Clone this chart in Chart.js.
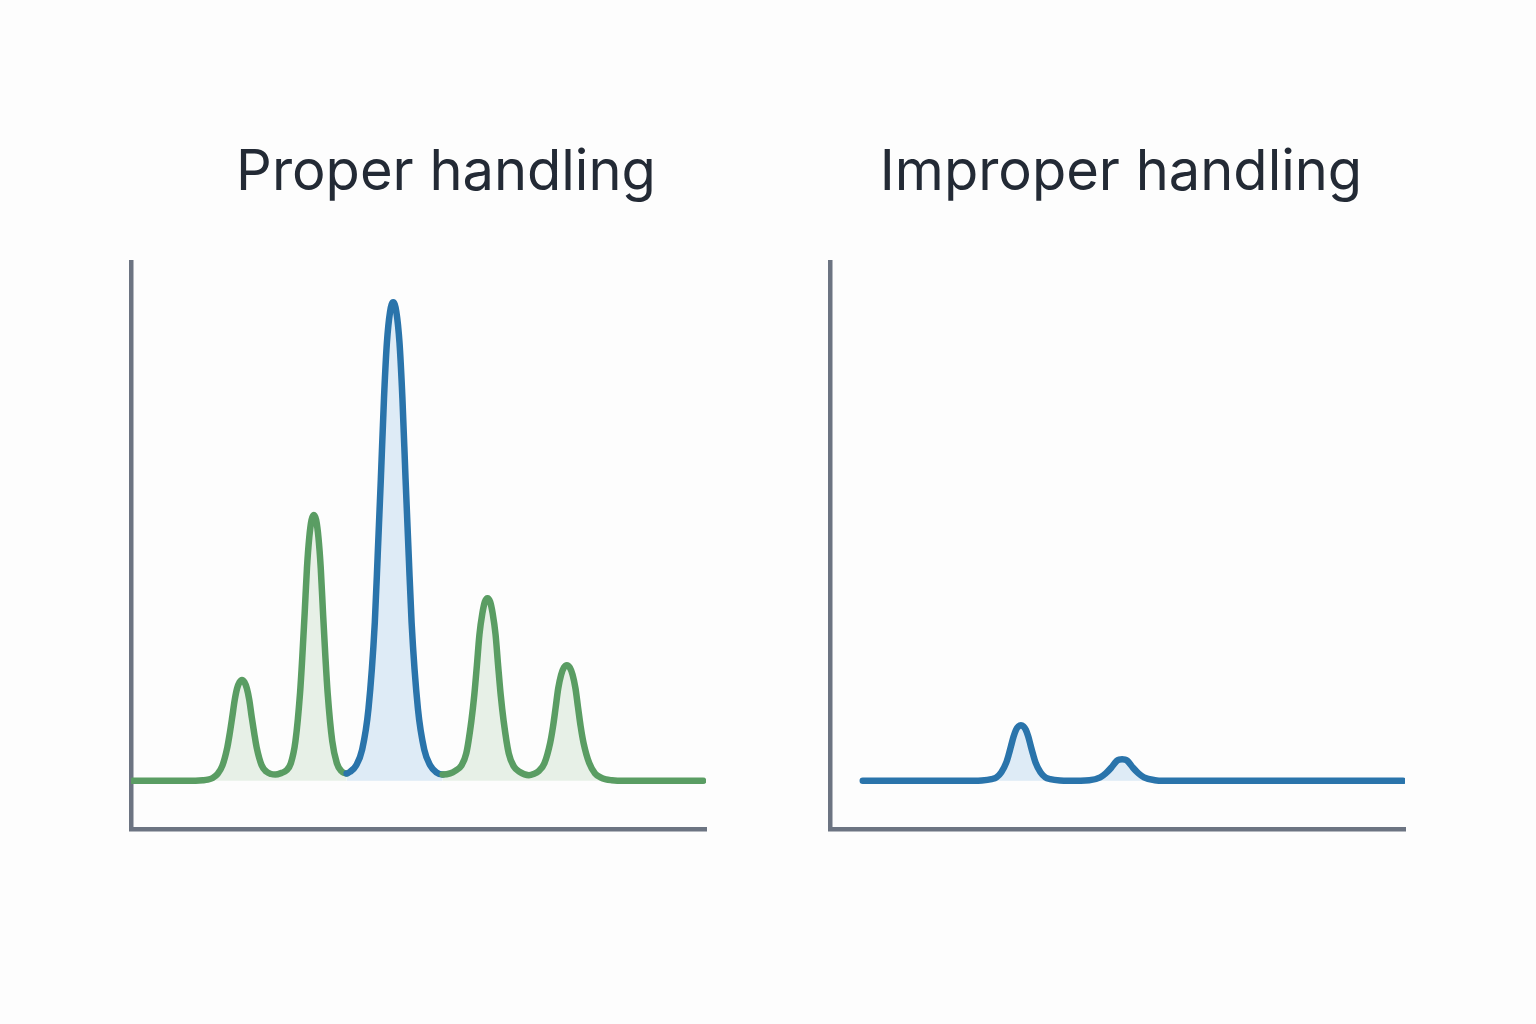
<!DOCTYPE html>
<html>
<head>
<meta charset="utf-8">
<script src="https://cdn.jsdelivr.net/npm/chart.js@4.4.1/dist/chart.umd.min.js"></script>
<style>
  html, body { margin: 0; padding: 0; background: #fdfdfd; }
  body { width: 1536px; height: 1024px; position: relative; overflow: hidden; }
  .title {
    position: absolute; width: 700px; text-align: center;
    font-family: Inter, Roboto, sans-serif; font-weight: 400;
    font-size: 56px; line-height: 70px; color: #232a35;
  }
  .panel { position: absolute; top: 242px; width: 615px; height: 607px; }
</style>
</head>
<body>
<div class="title" style="left:96px; top:135px;">Proper handling</div>
<div class="title" style="left:771px; top:135px;">Improper handling</div>
<div class="panel" style="left:111px;"><canvas id="proper"></canvas></div>
<div class="panel" style="left:810px;"><canvas id="improper"></canvas></div>
<script>
// ── chromatogram traces (x: % of run time, y: % of detector scale) ──
const baseline = 8.5;

const properX = [0.3, 10, 12.5, 13.35, 14.2, 15.05, 15.9, 16.75, 17.18, 17.6,
  18.03, 18.45, 18.88, 19.3, 19.73, 20.15, 20.58, 21.0, 21.43, 21.85,
  22.7, 23.55, 24.35, 25.1, 26.2, 27.0, 27.8, 28.6, 29.4, 29.8,
  30.2, 30.6, 31.0, 31.4, 31.8, 32.2, 32.6, 33.0, 33.4, 33.8,
  34.2, 35.0, 35.8, 36.6, 37.5, 38.1, 39.15, 40.2, 41.3, 42.4,
  42.9, 43.45, 44.0, 44.5, 45.05, 45.6, 46.15, 46.7, 47.2, 47.75,
  48.3, 48.8, 49.9, 51.0, 52.05, 53.1, 54.2, 55.5, 56.45, 57.4,
  58.3, 59.2, 59.7, 60.15, 60.6, 61.1, 61.55, 62.0, 62.45, 62.9,
  63.4, 63.85, 64.3, 64.8, 65.7, 66.6, 67.55, 69.2, 70.0, 70.9,
  71.9, 72.9, 73.4, 73.85, 74.3, 74.8, 75.3, 75.8, 76.3, 76.8,
  77.3, 77.75, 78.2, 78.7, 79.7, 80.7, 81.65, 82.6, 83.6, 84.6,
  86.0, 99.5];
const properY = [8.5, 8.5, 8.6, 8.7, 9.0, 9.7, 11.2, 14.4, 16.9, 19.7,
  22.7, 24.8, 25.9, 26.3, 25.9, 24.8, 22.7, 19.7, 16.9, 14.4,
  11.3, 10.1, 9.7, 9.6, 9.9, 10.3, 11.6, 15.5, 24.0, 30.5,
  38.0, 46.0, 51.4, 54.5, 55.4, 54.5, 51.4, 46.0, 38.0, 30.5,
  24.0, 15.5, 11.6, 10.2, 9.8, 10.1, 11.2, 14.0, 21.2, 36.4,
  48.2, 61.7, 76.0, 85.7, 91.2, 92.9, 91.2, 85.7, 76.0, 61.7,
  48.2, 36.4, 21.2, 14.0, 11.2, 10.0, 9.6, 9.8, 10.3, 11.1,
  13.3, 19.1, 23.6, 28.8, 34.3, 38.0, 40.1, 40.7, 40.1, 38.0,
  34.3, 28.8, 23.6, 19.1, 13.3, 11.0, 10.1, 9.5, 9.7, 10.2,
  11.6, 15.2, 18.1, 21.4, 24.8, 27.2, 28.5, 28.9, 28.5, 27.2,
  24.8, 21.4, 18.1, 15.2, 11.6, 9.8, 9.1, 8.75, 8.6, 8.52,
  8.5, 8.5];

// target analyte window (valley to valley) in the proper trace
const targetPeak = [37.5, 54.2];

const improperX = [5.7, 20, 25, 26.4, 28.1, 28.95, 29.8, 30.65, 31.08, 31.5,
  31.93, 32.35, 32.78, 33.2, 33.63, 34.05, 34.48, 34.9, 35.33, 35.75,
  36.6, 37.45, 38.3, 40.0, 41.5, 45.1, 47.0, 47.95, 48.9, 49.85,
  50.3, 50.8, 51.3, 51.75, 52.7, 53.65, 54.6, 56.5, 58.0, 99.7];
const improperY = [8.5, 8.5, 8.5, 8.55, 8.8, 9.1, 10.0, 11.7, 13.1, 14.7,
  16.3, 17.5, 18.1, 18.3, 18.1, 17.5, 16.3, 14.7, 13.1, 11.7,
  10.0, 9.1, 8.8, 8.55, 8.5, 8.6, 9.1, 9.8, 10.8, 12.0,
  12.25, 12.3, 12.25, 12.0, 10.8, 9.8, 9.1, 8.6, 8.5, 8.5];

const GREEN = '#5a9d63';
const GREEN_FILL = 'rgba(120,175,120,0.16)';
const BLUE = '#2a74ab';
const BLUE_FILL = 'rgba(90,160,220,0.19)';
const AXIS = '#6c7482';

function toPoints(xs, ys) {
  return xs.map((x, i) => ({ x: x, y: ys[i] }));
}

function inTarget(ctx) {
  return ctx.p0.parsed.x >= targetPeak[0] && ctx.p1.parsed.x <= targetPeak[1];
}

function axes() {
  const common = {
    min: 0, max: 100,
    ticks: { display: false },
    grid: { display: false, drawTicks: false },
    border: { display: true, color: AXIS, width: 4.5 }
  };
  return {
    x: Object.assign({ type: 'linear' }, common),
    y: Object.assign({ type: 'linear' }, common)
  };
}

function baseOpts() {
  return {
    responsive: true,
    maintainAspectRatio: false,
    animation: false,
    layout: { padding: 20 },
    plugins: { legend: { display: false }, tooltip: { enabled: false }, title: { display: false } },
    scales: axes()
  };
}

function trace(xs, ys, color, fillColor, extra) {
  return Object.assign({
    data: toPoints(xs, ys),
    borderColor: color,
    backgroundColor: fillColor,
    borderWidth: 6.5,
    borderCapStyle: 'round',
    borderJoinStyle: 'round',
    pointRadius: 0,
    cubicInterpolationMode: 'monotone',
    fill: { value: baseline }
  }, extra || {});
}

new Chart(document.getElementById('proper'), {
  type: 'line',
  data: {
    datasets: [trace(properX, properY, GREEN, GREEN_FILL, {
      segment: {
        borderColor: ctx => inTarget(ctx) ? BLUE : undefined,
        backgroundColor: ctx => inTarget(ctx) ? BLUE_FILL : undefined
      }
    })]
  },
  options: baseOpts()
});

new Chart(document.getElementById('improper'), {
  type: 'line',
  data: { datasets: [trace(improperX, improperY, BLUE, BLUE_FILL)] },
  options: baseOpts()
});
</script>
</body>
</html>
